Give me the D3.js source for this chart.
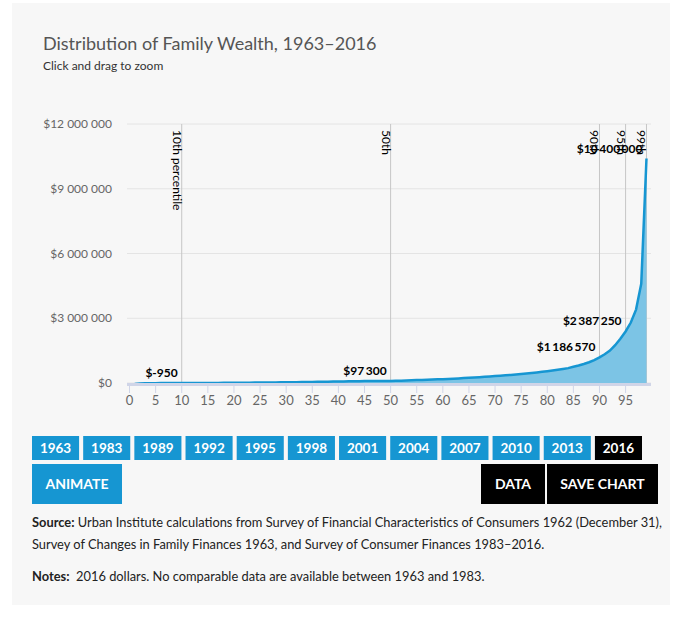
<!DOCTYPE html>
<html>
<head>
<meta charset="utf-8">
<script src="https://cdn.jsdelivr.net/npm/d3@7"></script>
<style>
  body { margin: 0; background: #fff; font-family: Lato, "Open Sans", sans-serif; }
  svg { display: block; }
</style>
</head>
<body>
<svg id="chart"></svg>
<script>
// 2016 family wealth by percentile (1st..99th)
var wealth = [
  -45000, -22000, -14000, -9500, -6500, -4500, -3000, -2000, -1300, -950,
  0, 500, 1200, 2000, 3000, 4200, 5500, 7000, 8600, 10300,
  12000, 14000, 16000, 18000, 20500, 23000, 25500, 28000, 31000, 34000,
  37000, 40000, 43000, 46500, 50000, 53500, 57000, 61000, 65000, 69000,
  73000, 77000, 80500, 84000, 87000, 89500, 92000, 94000, 96000, 97300,
  103000, 110000, 117000, 124000, 135000, 143000, 151000, 160000, 169000, 179000,
  190000, 201000, 213000, 226000, 240000, 255000, 270000, 286000, 303000, 320000,
  338000, 357000, 376000, 396000, 417000, 440000, 464000, 490000, 517000, 546000,
  577000, 611000, 648000, 690000, 750000, 810000, 880000, 960000, 1060000, 1186570,
  1330000, 1500000, 1750000, 2050000, 2387250, 2800000, 3400000, 4600000, 10400000
];

var markPcts = [10, 50, 90, 95, 99];
var markNames = ["10th percentile", "50th", "90th", "95th", "99th"];
var markValues = [-950, 97300, 1186570, 2387250, 10400000];

var yTicks = [0, 3000000, 6000000, 9000000, 12000000];
var xTicks = [0, 5, 10, 15, 20, 25, 30, 35, 40, 45, 50, 55, 60, 65, 70, 75, 80, 85, 90, 95];

var years = ["1963", "1983", "1989", "1992", "1995", "1998", "2001", "2004", "2007", "2010", "2013", "2016"];
var selectedYear = "2016";

var blue = "#1696d2";
var width = 681, height = 621;

var svg = d3.select("#chart")
    .attr("width", width)
    .attr("height", height);

// panel background
svg.append("rect")
    .attr("x", 12).attr("y", 3)
    .attr("width", 658).attr("height", 602)
    .attr("fill", "#f7f7f7");

svg.append("text")
    .attr("x", 43).attr("y", 50)
    .attr("font-size", "18px")
    .attr("fill", "#555")
    .text("Distribution of Family Wealth, 1963–2016");

svg.append("text")
    .attr("x", 43).attr("y", 70)
    .attr("font-size", "12px")
    .attr("fill", "#333")
    .text("Click and drag to zoom");

var x = d3.scaleLinear().domain([0, 100]).range([129.5, 651.7]);
var y = d3.scaleLinear().domain([0, 12000000]).range([383, 124]);

var loc = d3.formatLocale({ decimal: ".", thousands: " ", grouping: [3], currency: ["$", ""], minus: "-" });
var money = loc.format(",");
function fmt(d) { return "$" + money(d); }

var locThin = d3.formatLocale({ decimal: ".", thousands: "\u2009", grouping: [3], currency: ["$", ""], minus: "-" });
var moneyThin = locThin.format(",");

// horizontal grid + y labels
svg.selectAll(".grid")
    .data(yTicks)
    .enter()
    .append("line")
    .attr("x1", 127).attr("x2", 651)
    .attr("y1", function(d) { return y(d); })
    .attr("y2", function(d) { return y(d); })
    .attr("stroke", "#e4e4e4")
    .attr("stroke-width", 1);

svg.selectAll(".ylab")
    .data(yTicks)
    .enter()
    .append("text")
    .attr("x", 112)
    .attr("y", function(d) { return y(d); })
    .attr("dy", "0.35em")
    .attr("text-anchor", "end")
    .attr("font-size", "12px")
    .attr("fill", "#666")
    .text(fmt);

// percentile marker lines
svg.selectAll(".pline")
    .data(markPcts)
    .enter()
    .append("line")
    .attr("x1", function(d) { return x(d); })
    .attr("x2", function(d) { return x(d); })
    .attr("y1", 124).attr("y2", 383)
    .attr("stroke", "#c6c6c6")
    .attr("stroke-width", 1);

// area + line
var pts = wealth.map(function(v, i) { return { p: i + 1, v: v }; });

var area = d3.area()
    .x(function(d) { return x(d.p); })
    .y0(y(0))
    .y1(function(d) { return y(d.v); });

var line = d3.line()
    .x(function(d) { return x(d.p); })
    .y(function(d) { return y(d.v); });

svg.append("path")
    .datum(pts)
    .attr("d", area)
    .attr("fill", "#7cc4e5");

svg.append("path")
    .datum(pts)
    .attr("d", line)
    .attr("fill", "none")
    .attr("stroke", blue)
    .attr("stroke-width", 2.5);

// x axis
svg.append("line")
    .attr("x1", 127).attr("x2", 651)
    .attr("y1", 384.5).attr("y2", 384.5)
    .attr("stroke", "#d0d5e8")
    .attr("stroke-width", 3);

svg.selectAll(".xtick")
    .data(xTicks)
    .enter()
    .append("line")
    .attr("x1", function(d) { return x(d); })
    .attr("x2", function(d) { return x(d); })
    .attr("y1", 386).attr("y2", 393)
    .attr("stroke", "#d0d5e8");

svg.selectAll(".xlab")
    .data(xTicks)
    .enter()
    .append("text")
    .attr("x", function(d) { return x(d); })
    .attr("y", 405)
    .attr("text-anchor", "middle")
    .attr("font-size", "13px")
    .attr("fill", "#666")
    .text(function(d) { return d; });

// rotated percentile names
svg.selectAll(".pname")
    .data(markPcts)
    .enter()
    .append("text")
    .attr("transform", function(d) { return "translate(" + (x(d) - 9) + ",130) rotate(90)"; })
    .attr("font-size", "12px")
    .attr("fill", "#000")
    .text(function(d, i) { return markNames[i]; });

// value labels
svg.selectAll(".vlab")
    .data(markPcts)
    .enter()
    .append("text")
    .attr("x", function(d) { return x(d) - 4; })
    .attr("y", function(d, i) { return y(markValues[i]) - 6; })
    .attr("text-anchor", "end")
    .attr("font-size", "12px")
    .attr("font-weight", "bold")
    .attr("fill", "#000")
    .text(function(d, i) { return "$" + moneyThin(markValues[i]); });

// year buttons
var band = d3.scaleBand().domain(years).range([32, 642]).paddingInner(0.08);

var btn = svg.selectAll(".year")
    .data(years)
    .enter()
    .append("g")
    .attr("transform", function(d) { return "translate(" + band(d) + ",436)"; });

btn.append("rect")
    .attr("width", band.bandwidth())
    .attr("height", 24)
    .attr("fill", function(d) { return d === selectedYear ? "#000" : blue; });

btn.append("text")
    .attr("x", band.bandwidth() / 2)
    .attr("y", 17)
    .attr("text-anchor", "middle")
    .attr("font-size", "13.5px")
    .attr("font-weight", "bold")
    .attr("fill", "#fff")
    .text(function(d) { return d; });

// action buttons
var actions = [
  { label: "ANIMATE", x: 32, w: 90, fill: blue },
  { label: "DATA", x: 481, w: 64, fill: "#000" },
  { label: "SAVE CHART", x: 547, w: 111, fill: "#000" }
];

var act = svg.selectAll(".act")
    .data(actions)
    .enter()
    .append("g")
    .attr("transform", function(d) { return "translate(" + d.x + ",464)"; });

act.append("rect")
    .attr("width", function(d) { return d.w; })
    .attr("height", 40)
    .attr("fill", function(d) { return d.fill; });

act.append("text")
    .attr("x", function(d) { return d.w / 2; })
    .attr("y", 25)
    .attr("text-anchor", "middle")
    .attr("font-size", "14px")
    .attr("font-weight", "bold")
    .attr("fill", "#fff")
    .text(function(d) { return d.label; });

// notes
var src = svg.append("text").attr("x", 32).attr("y", 527).attr("font-size", "12.85px").attr("fill", "#222");
src.append("tspan").attr("font-weight", "bold").text("Source:");
src.append("tspan").text(" Urban Institute calculations from Survey of Financial Characteristics of Consumers 1962 (December 31),");

svg.append("text").attr("x", 32).attr("y", 549).attr("font-size", "12.85px").attr("fill", "#222")
    .text("Survey of Changes in Family Finances 1963, and Survey of Consumer Finances 1983–2016.");

var notes = svg.append("text").attr("x", 32).attr("y", 581).attr("font-size", "12.85px").attr("fill", "#222");
notes.append("tspan").attr("font-weight", "bold").text("Notes:");
notes.append("tspan").text("\u00a0 2016 dollars. No comparable data are available between 1963 and 1983.");
</script>
</body>
</html>
